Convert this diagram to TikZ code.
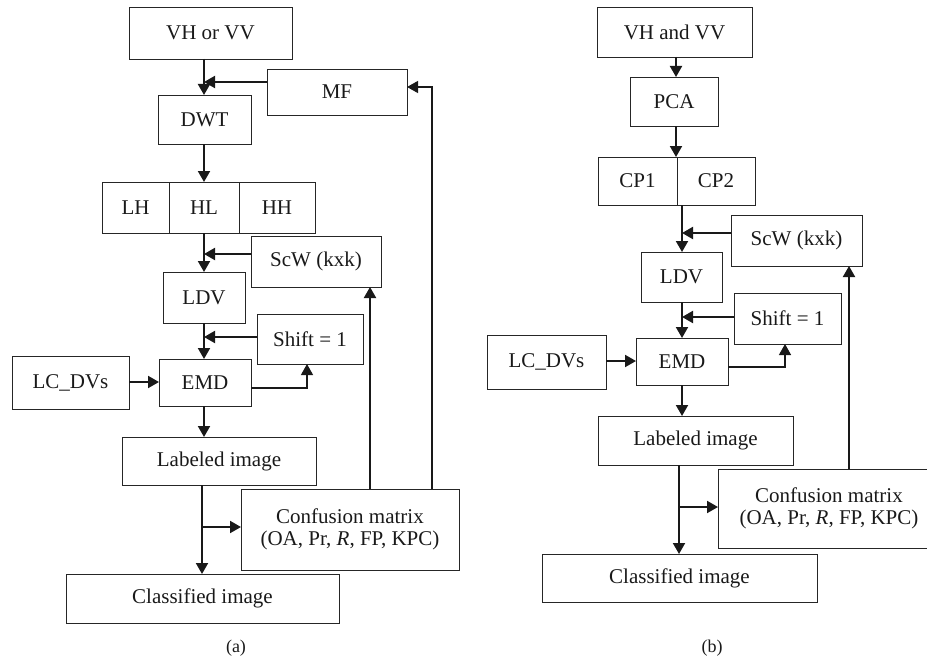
\documentclass[tikz,border=0pt]{standalone}
\usepackage{fontspec}
\setmainfont{Liberation Serif}
\usetikzlibrary{arrows.meta,calc}
\tikzset{
  box/.style={draw=black!85, line width=0.9pt, inner sep=0pt, outer sep=0pt, align=center,
    font=\fontsize{21}{22}\selectfont, text=black!90},
  arr/.style={line width=1.9pt, draw=black!90, -{Triangle[length=11pt,width=12pt]}},
  thinarr/.style={line width=1.3pt, draw=black!90, -{Triangle[length=11pt,width=12pt]}},
  captext/.style={font=\fontsize{18}{20}\selectfont, text=black!90}
}
\newcommand\bx[6]{\node[box, minimum width={(#4-#2)*1pt}, minimum height={(#5-#3)*1pt}] (#1) at ({(#2+#4)/2},{(#3+#5)/2}) {#6};}
\begin{document}
\begin{tikzpicture}[x=1pt,y=-1pt]
\useasboundingbox (0,0) rectangle (927,661);
\clip (0,0) rectangle (927,661);
% ---------- (a) ----------
\coordinate (axA) at (204,0);
\bx{vh}{129}{7}{292}{59}{VH or VV}
\bx{mf}{267}{69}{407}{115}{MF}
\bx{dwt}{158}{95}{251}{144}{DWT}
\bx{lh}{102}{182}{169}{233}{LH}
\bx{hl}{169}{182}{239}{233}{HL}
\bx{hh}{239}{182}{315}{233}{HH}
\bx{scw}{251}{236}{381}{287}{ScW (kxk)}
\bx{ldv}{163}{272}{245}{323}{LDV}
\bx{shift}{257}{314}{363}{364}{Shift = 1}
\bx{lcdv}{12}{356}{129}{409}{LC\_DVs}
\bx{emd}{159}{359}{251}{406}{EMD}
\bx{lab}{122}{437}{316}{485}{Labeled image}
\bx{conf}{241}{489}{459}{570}{Confusion matrix\\(OA, Pr, \textit{R}, FP, KPC)}
\bx{cls}{66}{574}{339}{623}{Classified image}
\node[captext] (capa) at (236,648) {(a)};

\coordinate (mfin) at (267,82);
\coordinate (scwin) at (251,254);
\coordinate (shin) at (257,337);
\coordinate (emdout) at (251,388);
\coordinate (shup) at (307,364);
\coordinate (brA) at (202,527);
\coordinate (fbS) at (370,489);
\coordinate (fbM) at (432,489);
\coordinate (mfback) at (407,87);
\coordinate (lcA) at (129,382);

\draw[arr] (vh.south -| axA) -- (dwt.north -| axA);
\draw[arr] (mfin) -- (mfin -| axA);
\draw[arr] (dwt.south -| axA) -- (hl.north -| axA);
\draw[arr] (hl.south -| axA) -- (ldv.north -| axA);
\draw[arr] (scwin) -- (scwin -| axA);
\draw[arr] (ldv.south -| axA) -- (emd.north -| axA);
\draw[arr] (shin) -- (shin -| axA);
\draw[arr] (lcA) -- (lcA -| emd.west);
\draw[thinarr] (emdout) -| (shup);
\draw[arr] (emd.south -| axA) -- (lab.north -| axA);
\draw[arr] (lab.south -| brA) -- (cls.north -| brA);
\draw[arr] (brA) -- (brA -| conf.west);
\draw[arr] (fbS) -- (fbS |- scw.south);
\draw[thinarr] (fbM) |- (mfback);

% ---------- (b) ----------
\coordinate (axB) at (676,0);
\coordinate (axC) at (682,0);
\bx{vhb}{597}{7}{752}{57}{VH and VV}
\bx{pca}{630}{77}{718}{126}{PCA}
\bx{cpa}{598}{157}{677}{205}{CP1}
\bx{cpb}{677}{157}{755}{205}{CP2}
\bx{scwb}{731}{215}{862}{266}{ScW (kxk)}
\bx{ldvb}{641}{252}{722}{302}{LDV}
\bx{shiftb}{734}{293}{841}{344}{Shift = 1}
\bx{lcdvb}{487}{335}{606}{389}{LC\_DVs}
\bx{emdb}{636}{338}{728}{385}{EMD}
\bx{labb}{598}{416}{793}{465}{Labeled image}
\bx{confb}{718}{469}{940}{548}{Confusion matrix\\(OA, Pr, \textit{R}, FP, KPC)}
\bx{clsb}{542}{554}{817}{602}{Classified image}
\node[captext] (capb) at (712,648) {(b)};

\coordinate (scwinb) at (731,233);
\coordinate (shinb) at (734,317);
\coordinate (emdoutb) at (728,367);
\coordinate (shupb) at (785,344);
\coordinate (brB) at (679,507);
\coordinate (fbSb) at (849,469);
\coordinate (lcB) at (606,361);

\draw[arr] (vhb.south -| axB) -- (pca.north -| axB);
\draw[arr] (pca.south -| axB) -- (cpa.north -| axB);
\draw[arr] (cpa.south -| axC) -- (ldvb.north -| axC);
\draw[arr] (scwinb) -- (scwinb -| axC);
\draw[arr] (ldvb.south -| axC) -- (emdb.north -| axC);
\draw[arr] (shinb) -- (shinb -| axC);
\draw[arr] (lcB) -- (lcB -| emdb.west);
\draw[thinarr] (emdoutb) -| (shupb);
\draw[arr] (emdb.south -| axC) -- (labb.north -| axC);
\draw[arr] (labb.south -| brB) -- (clsb.north -| brB);
\draw[arr] (brB) -- (brB -| confb.west);
\draw[arr] (fbSb) -- (fbSb |- scwb.south);
\end{tikzpicture}
\end{document}
